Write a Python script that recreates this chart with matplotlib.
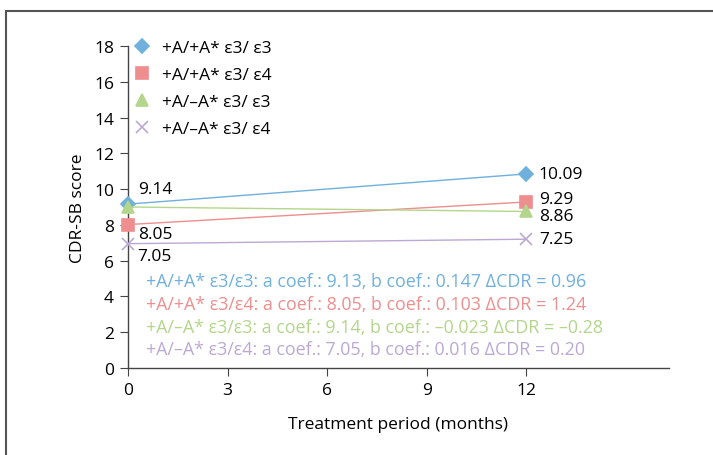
import matplotlib.pyplot as plt
from matplotlib.patches import Rectangle
from matplotlib.lines import Line2D

plt.rcParams['font.family'] = ['Open Sans', 'DejaVu Sans']

# Data
months = [0, 12]
groups = ['+A/+A* ε3/ ε3', '+A/+A* ε3/ ε4', '+A/\u2013A* ε3/ ε3', '+A/\u2013A* ε3/ ε4']
scores = [
    [9.16, 10.85],
    [8.02, 9.28],
    [9.0, 8.75],
    [6.95, 7.2],
]
start_labels = ['9.14', '8.05', '', '7.05']
end_labels = ['10.09', '9.29', '8.86', '7.25']
start_offsets = [11, -7, 0, -9]
end_offsets = [0, 2, -3, 0]
fit_texts = [
    '+A/+A* ε3/ε3: a coef.: 9.13, b coef.: 0.147 ΔCDR = 0.96',
    '+A/+A* ε3/ε4: a coef.: 8.05, b coef.: 0.103 ΔCDR = 1.24',
    '+A/\u2013A* ε3/ε3: a coef.: 9.14, b coef.: \u20130.023 ΔCDR = \u20130.28',
    '+A/\u2013A* ε3/ε4: a coef.: 7.05, b coef.: 0.016 ΔCDR = 0.20',
]

colors = ['#6fb0dc', '#ee8e8e', '#b3d68c', '#bba9d3']
markers = ['D', 's', '^', 'x']
msizes = [7, 8.5, 8.5, 9]

fig = plt.figure(figsize=(7.13, 4.56), dpi=100)
ax = fig.add_axes([128 / 713, 1 - 369 / 456, (669 - 128) / 713, (369 - 47) / 456])

for i in range(4):
    ax.plot(months, scores[i], color=colors[i], lw=1.0, marker=markers[i],
            ms=msizes[i], mew=1.2, clip_on=False, zorder=3)
    if start_labels[i]:
        ax.annotate(start_labels[i], (months[0], scores[i][0]),
                    xytext=(7, start_offsets[i]), textcoords='offset points',
                    fontsize=12.5, va='center', ha='left')
    ax.annotate(end_labels[i], (months[1], scores[i][1]),
                xytext=(9, end_offsets[i]), textcoords='offset points',
                fontsize=12.5, va='center', ha='left')

# fit summaries, positioned in pixels from the top-left
for i, t in enumerate(fit_texts):
    ax.text(146, 456 - (282 + i * 22.8), t, transform=None, color=colors[i],
            fontsize=12.9, va='center', ha='left')

ax.set_xlim(0, 16.3)
ax.set_ylim(0, 18)
ax.set_xticks([0, 3, 6, 9, 12])
ax.set_yticks(range(0, 19, 2))
ax.spines['top'].set_visible(False)
ax.spines['right'].set_visible(False)
for s in ['left', 'bottom']:
    ax.spines[s].set_color('#444444')
    ax.spines[s].set_linewidth(1.0)
ax.tick_params(labelsize=12.5, length=6, color='#444444', pad=4)
ax.set_xlabel('Treatment period (months)', fontsize=12.5, labelpad=13)
ax.set_ylabel('CDR-SB score', fontsize=12.5, labelpad=6)

handles = [Line2D([], [], color=colors[i], marker=markers[i], ms=msizes[i],
                  mew=1.2, ls='none') for i in range(4)]
ax.legend(handles, groups, loc='upper left', bbox_to_anchor=(-0.015, 1.058),
          frameon=False, fontsize=12.5, handletextpad=0.5, labelspacing=0.64,
          handlelength=1.2, borderaxespad=0.3)

fig.patches.append(Rectangle((6 / 713, -0.1), 1.2, 1 - 12 / 456 + 0.1,
                             transform=fig.transFigure, fill=False,
                             ec='#555555', lw=1.5))

fig.savefig('out.png', dpi=100)
